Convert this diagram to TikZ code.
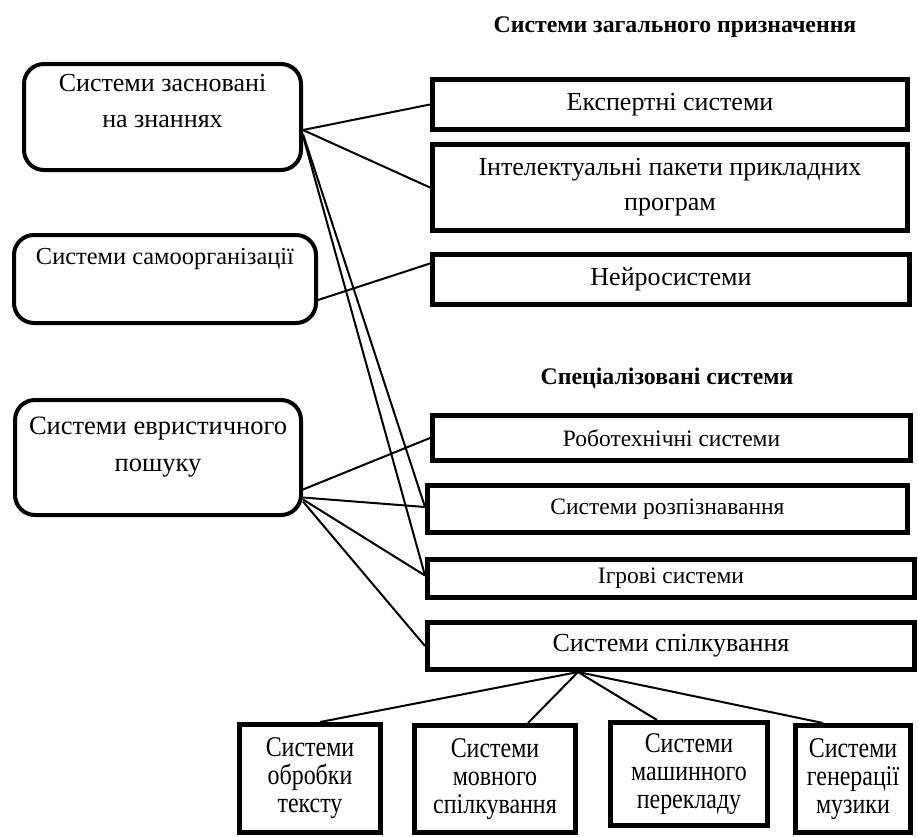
\documentclass[tikz,border=0pt]{standalone}
\usepackage{fontspec}
\setmainfont{Liberation Serif}
\newfontfamily\narrowserif[FakeStretch=0.84]{Liberation Serif}
\usetikzlibrary{positioning}

\begin{document}
\begin{tikzpicture}[x=1pt,y=-1pt]
  \tikzstyle{rbox} = [draw,rectangle,line width=4pt,rounded corners=20pt,inner sep=0pt]
  \tikzstyle{sbox} = [draw,rectangle,line width=5pt,inner sep=0pt,align=center]
  \tikzstyle{txt} = [inner sep=0pt,align=center]
  \tikzstyle{big} = [font=\fontsize{26}{36}\selectfont]
  \tikzstyle{mid} = [font=\fontsize{23.5}{30}\selectfont]
  \tikzstyle{low} = [font=\narrowserif\fontsize{28.5}{28}\selectfont]
  \tikzstyle{head} = [font=\fontsize{23.8}{28}\selectfont\bfseries]
  \tikzstyle{link} = [line width=2pt]
  \useasboundingbox (0,0) rectangle (918,836);

  % headings
  \node (hgen) [head] at (675,27) {Системи загального призначення};
  \node (hspec) [head] at (667,378) {Спеціалізовані системи};

  % left column
  \node (know) [rbox, minimum width=277pt, minimum height=106pt] at (162.5,117) {};
  \node (knowt) [txt, big, below=12pt of know.north] {Системи засновані\\на знаннях};
  \node (self) [rbox, minimum width=302pt, minimum height=88pt] at (165,279) {};
  \node (selft) [txt, font=\fontsize{24.4}{30}\selectfont, below=15pt of self.north] {Системи самоорганізації};
  \node (heur) [rbox, minimum width=286pt, minimum height=115pt] at (158,457.5) {};
  \node (heurt) [txt, font=\fontsize{26.5}{37}\selectfont, below=19pt of heur.north] {Системи евристичного\\пошуку};

  % general purpose
  \node (exp) [sbox, big, minimum width=475pt, minimum height=50pt] at (670,104.5) {Експертні системи};
  \node (int) [sbox, font=\fontsize{26}{35}\selectfont, minimum width=475pt, minimum height=86pt] at (670,187.5) {Інтелектуальні пакети прикладних\\програм};
  \node (neur) [sbox, big, minimum width=477pt, minimum height=50pt] at (671,279.5) {Нейросистеми};

  % specialised
  \node (rob) [sbox, mid, minimum width=478pt, minimum height=45pt] at (671.5,438) {Роботехнічні системи};
  \node (rozp) [sbox, mid, minimum width=480pt, minimum height=47pt] at (667.5,509) {Системи розпізнавання};
  \node (igr) [sbox, mid, minimum width=487pt, minimum height=38pt] at (671,578.5) {Ігрові системи};
  \node (spil) [sbox, big, minimum width=487pt, minimum height=47pt] at (671,646) {Системи спілкування};

  % kinds of communication
  \node (pa) [sbox, low, minimum width=141pt, minimum height=108pt] at (310,778.5) {Системи\\обробки\\тексту};
  \node (pb) [sbox, low, minimum width=161pt, minimum height=107pt] at (495,779) {Системи\\мовного\\спілкування};
  \node (pc) [sbox, low, minimum width=157pt, minimum height=103pt] at (689,774) {Системи\\машинного\\перекладу};
  \node (pd) [sbox, low, minimum width=115pt, minimum height=107pt] at (853,779) {Системи\\генерації\\музики};

  \draw [link] ([yshift=-13pt]know.east) -- (exp.west);
  \draw [link] ([yshift=-13pt]know.east) -- (int.west);
  \draw [link] ([yshift=-17pt]know.east) -- ([yshift=2pt]rozp.west);
  \draw [link] ([yshift=-19pt]know.east) -- ([yshift=3pt]igr.west);
  \draw [link] ([yshift=-21pt]self.east) -- ([yshift=16pt]neur.west);
  \draw [link] ([yshift=-32pt]heur.east) -- (rob.west);
  \draw [link] ([yshift=-40pt]heur.east) -- ([yshift=2pt]rozp.west);
  \draw [link] ([yshift=-42pt]heur.east) -- ([yshift=3pt]igr.west);
  \draw [link] ([yshift=-44pt]heur.east) -- (spil.west);
  \draw [link] ([xshift=-93pt]spil.south) -- ([xshift=10pt]pa.north);
  \draw [link] ([xshift=-93pt]spil.south) -- ([xshift=33pt]pb.north);
  \draw [link] ([xshift=-93pt]spil.south) -- ([xshift=-32pt]pc.north);
  \draw [link] ([xshift=-93pt]spil.south) -- ([xshift=-30pt]pd.north);
\end{tikzpicture}
\end{document}
